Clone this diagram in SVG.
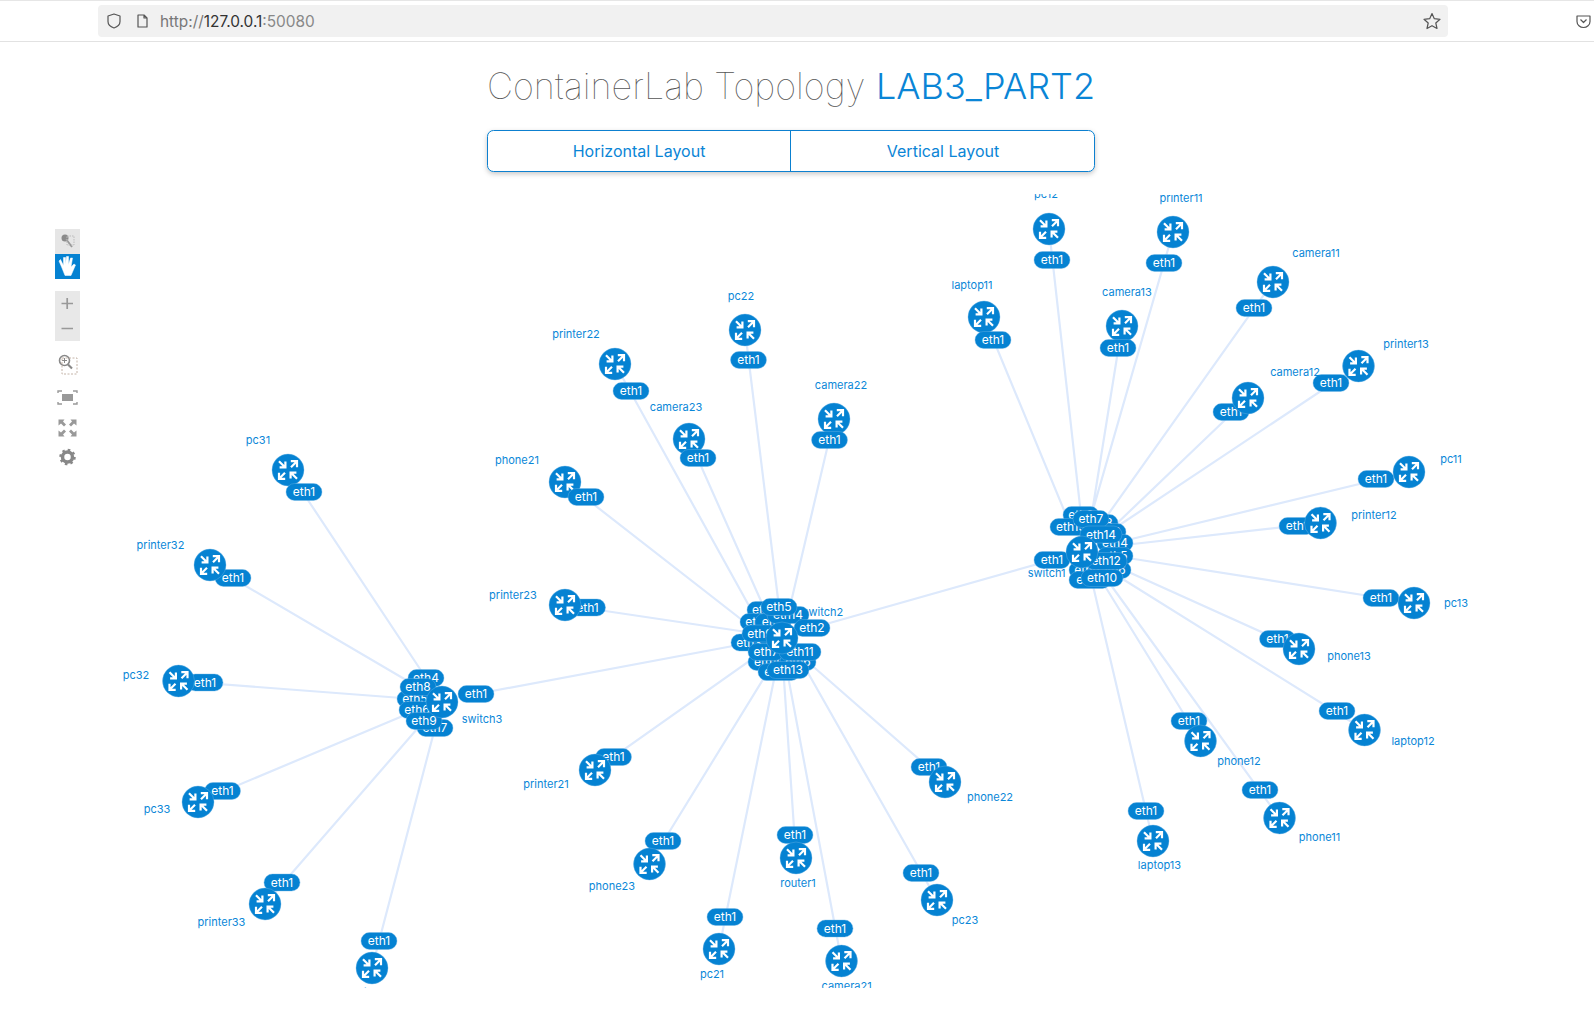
<svg xmlns="http://www.w3.org/2000/svg" xmlns:xlink="http://www.w3.org/1999/xlink" width="1594" height="1012" viewBox="0 0 1594 1012">
<style>
text{font-family:Inter,"Noto Sans","Liberation Sans",sans-serif}
.pill{fill:#0582d2;stroke:#6fb7e6;stroke-width:.4}
.pt{fill:#fff;font-size:12px;text-anchor:middle}
.lb{fill:#0a87d8;font-size:11px;text-anchor:middle}
.edge{stroke:#dde9fc;stroke-width:2.200;fill:none;stroke-linecap:round}
.ic{fill:none;stroke:#999;stroke-width:1.4}
.dk{fill:none;stroke:#555;stroke-width:1.200;stroke-linejoin:round}
</style>
<defs>
<clipPath id="view"><rect x="0" y="194" width="1594" height="794"/></clipPath>
<filter id="sh" x="-5%" y="-20%" width="110%" height="150%"><feDropShadow dx="0" dy="2" stdDeviation="2.5" flood-color="#000" flood-opacity=".22"/></filter>
<g id="r">
<circle r="16" fill="#0582d2" stroke="#6fb7e6" stroke-width=".4"/>
<path d="M-9-8.800-3-2.800M-2.600-8.400V-2.600H-8.400M9-8.800 3-2.800M2.800-8.800H9V-2.800M-9 8.800-3 2.800M-9 2.800V8.800H-2.800M9 8.800 3 2.800M2.600 8.400V2.600H8.400" fill="none" stroke="#fff" stroke-width="2.200"/>
</g>
</defs>
<rect width="1594" height="1012" fill="#fff"/>

<g id="browser-bar">
<rect x="0" y="0" width="1594" height="1" fill="#e6e6e6"/>
<rect x="0" y="41" width="1594" height="1" fill="#e2e2e2"/>
<rect x="98" y="5" width="1350" height="32" rx="4" fill="#f1f1f1"/>
<path class="dk" d="M114 14.500 120 16.500V22C120 25.500 117 27.500 114 28.500 111 27.500 108 25.500 108 22V16.500Z" transform="translate(0 -.5)"/>
<path class="dk" d="M138 15H144L147 18V27H138ZM144 15V18H147"/>
<text x="160" y="27" font-size="15.400px"><tspan fill="#777">http://</tspan><tspan fill="#333">127.0.0.1</tspan><tspan fill="#888">:50080</tspan></text>
<path class="dk" d="M1432 13.500 1434.300 18.700 1440 19.300 1435.800 23 1437 28.500 1432 25.700 1427 28.500 1428.200 23 1424 19.300 1429.700 18.700Z"/>
<path class="dk" d="M1577 16H1590V21.500C1590 25 1587 27.500 1583.500 27.500 1580 27.500 1577 25 1577 21.500Z"/>
<path class="dk" d="M1580.500 19.500 1583.500 22.500 1586.500 19.500"/>
</g>

<g id="title">
<text x="487" y="99" font-size="36px" font-weight="100" fill="#555">ContainerLab Topology</text>
<text x="876" y="99" font-size="36px" font-weight="300" fill="#0a85d6">LAB3_PART2</text>
</g>

<g id="layout-buttons">
<rect x="487.500" y="130.500" width="607" height="41" rx="6" fill="#fff" stroke="#0a80d0" stroke-width="1" filter="url(#sh)"/>
<line x1="790.500" y1="130.500" x2="790.500" y2="171.500" stroke="#0a80d0" stroke-width="1"/>
<text x="639" y="157" font-size="16px" fill="#0a85d6" text-anchor="middle">Horizontal Layout</text>
<text x="943" y="157" font-size="16px" fill="#0a85d6" text-anchor="middle">Vertical Layout</text>
</g>

<g id="toolbar">
<rect x="55" y="229" width="25" height="25" fill="#e6e6e6"/>
<circle cx="65" cy="238" r="3.500" fill="#8a8a8a"/>
<path d="M66 239 72 247" stroke="#999" stroke-width="1.800"/>
<rect x="67" y="236" width="7" height="9" fill="none" stroke="#bbb" stroke-width="1" stroke-dasharray="1.500 1"/>
<rect x="55" y="254" width="25" height="25" fill="#0582d2"/>
<path d="M60.500 259.500 63.500 265.500V257.500H65.500V264.500L66.500 256.500H68.500V264.500L70.500 258H72.500L71 267 74 264 75.500 265 71 275.500H65L62 268 59 261Z" fill="#fff" stroke="#fff" stroke-width=".5"/>
<rect x="55" y="291" width="25" height="50" fill="#e8e8e8"/>
<path d="M61.500 303.500H73M67.200 298V309M61.500 328.500H73" stroke="#999" stroke-width="1.700" fill="none"/>
<circle cx="64.500" cy="360.500" r="5" stroke="#888" stroke-width="1.600" fill="none"/>
<path d="M68 364.500 72 368.500" stroke="#888" stroke-width="2.200"/>
<path d="M62 360.500H67M64.500 358V363" stroke="#888" stroke-width="1"/>
<rect x="62" y="358" width="15" height="16" fill="none" stroke="#c4b4a8" stroke-width="1" stroke-dasharray="2 1.500"/>
<path class="ic" d="M58 393V391H62M73 391H77V393M77 402V404H73M62 404H58V402" stroke="#a8b0b8"/>
<rect x="62" y="394" width="11" height="7" fill="#999"/>
<path d="M58.500 419.500H64.500L63 421.500 66 424.500 64 426.500 61 423.500 58.500 425.500ZM76.500 419.500H70.500L72 421.500 69 424.500 71 426.500 74 423.500 76.500 425.500ZM58.500 436.500V430.500L61 432.500 64 429.500 66 431.500 63 434.500 64.500 436.500ZM76.500 436.500V430.500L74 432.500 71 429.500 69 431.500 72 434.500 70.500 436.500Z" fill="#999"/>
<circle cx="67.500" cy="457" r="5" fill="none" stroke="#888" stroke-width="3.500"/>
<circle cx="67.500" cy="457" r="7" fill="none" stroke="#888" stroke-width="2.500" stroke-dasharray="2.500 3"/>
</g>

<g clip-path="url(#view)">
<g id="connectors" class="edge">
<path d="M812 628 1052 560M476 694 749 643"/>
<path d="M745 330 779 607M615 364 758 622M689 439 765 610M565 482 760 634M565 605 760 634M834 419 788 615M595 770 765 650M649.500 864 775 660M719 949 779 655M796 858 782 650M841.500 961 785 660M937 900 795 650M945 782 800 655"/>
<path d="M288 470 426 678M210 565 418 687M178.500 681 415 699M198 802 417 710M265 904 424 721M372 968 435 728"/>
<path d="M1049 229 1081 515M984 317 1071 527M1122 326 1091 519M1173 232 1090 520M1273 282 1097 530M1248 398 1108 532M1358.500 366 1115 528M1409 472 1115 543M1320.500 523 1115 546M1414 603 1115 556M1299 649 1113 565M1364.500 730 1113 573M1279.500 818 1100 570M1200.500 741 1095 570M1153 841 1087 560"/>
</g>

<g id="switch1">
<text class="lb" x="1046.600" y="577">switch1</text>
<rect class="pill" x="1063" y="506.500" width="36" height="17" rx="8.500"/><text class="pt" x="1081" y="519">eth2</text>
<rect class="pill" x="1082" y="514.500" width="36" height="17" rx="8.500"/><text class="pt" x="1100" y="527">eth8</text>
<rect class="pill" x="1090" y="523.500" width="36" height="17" rx="8.500"/><text class="pt" x="1108" y="536">eth3</text>
<rect class="pill" x="1050" y="518.500" width="42" height="17" rx="8.500"/><text class="pt" x="1071" y="531">eth13</text>
<rect class="pill" x="1073" y="510.500" width="36" height="17" rx="8.500"/><text class="pt" x="1091" y="523">eth7</text>
<rect class="pill" x="1097" y="534.500" width="36" height="17" rx="8.500"/><text class="pt" x="1115" y="547">eth4</text>
<rect class="pill" x="1080" y="526" width="42" height="17" rx="8.500"/><text class="pt" x="1101" y="538.500">eth14</text>
<rect class="pill" x="1097" y="547.500" width="36" height="17" rx="8.500"/><text class="pt" x="1115" y="560">eth5</text>
<rect class="pill" x="1095" y="561.500" width="36" height="17" rx="8.500"/><text class="pt" x="1113" y="574">eth6</text>
<rect class="pill" x="1069" y="561.500" width="36" height="17" rx="8.500"/><text class="pt" x="1087" y="574">eth9</text>
<rect class="pill" x="1069" y="571.500" width="42" height="17" rx="8.500"/><text class="pt" x="1090" y="584">eth11</text>
<rect class="pill" x="1085" y="552.500" width="42" height="17" rx="8.500"/><text class="pt" x="1106" y="565">eth12</text>
<rect class="pill" x="1081" y="569.500" width="42" height="17" rx="8.500"/><text class="pt" x="1102" y="582">eth10</text>
<rect class="pill" x="1034" y="551.500" width="36" height="17" rx="8.500"/><text class="pt" x="1052" y="564">eth1</text>
<use href="#r" x="1082" y="552"/>
</g>

<g id="switch2">
<text class="lb" x="823" y="616">switch2</text>
<rect class="pill" x="747" y="601.500" width="36" height="17" rx="8.500"/><text class="pt" x="765" y="614">eth4</text>
<rect class="pill" x="740" y="613.500" width="36" height="17" rx="8.500"/><text class="pt" x="758" y="626">eth8</text>
<rect class="pill" x="755" y="613.500" width="36" height="17" rx="8.500"/><text class="pt" x="773" y="626">eth1</text>
<rect class="pill" x="767" y="606.500" width="42" height="17" rx="8.500"/><text class="pt" x="788" y="619">eth14</text>
<rect class="pill" x="761" y="598.500" width="36" height="17" rx="8.500"/><text class="pt" x="779" y="611">eth5</text>
<rect class="pill" x="794" y="619.500" width="36" height="17" rx="8.500"/><text class="pt" x="812" y="632">eth2</text>
<rect class="pill" x="731" y="634" width="36" height="17" rx="8.500"/><text class="pt" x="749" y="646.500">eth3</text>
<rect class="pill" x="742" y="625" width="36" height="17" rx="8.500"/><text class="pt" x="760" y="637.500">eth9</text>
<rect class="pill" x="748" y="653.500" width="42" height="17" rx="8.500"/><text class="pt" x="769" y="666">eth10</text>
<rect class="pill" x="758" y="663.500" width="42" height="17" rx="8.500"/><text class="pt" x="779" y="676">eth12</text>
<rect class="pill" x="748" y="643.500" width="36" height="17" rx="8.500"/><text class="pt" x="766" y="656">eth7</text>
<rect class="pill" x="780" y="653.500" width="36" height="17" rx="8.500"/><text class="pt" x="798" y="666">eth6</text>
<rect class="pill" x="779" y="643.500" width="42" height="17" rx="8.500"/><text class="pt" x="800" y="656">eth11</text>
<rect class="pill" x="767" y="661.500" width="42" height="17" rx="8.500"/><text class="pt" x="788" y="674">eth13</text>
<use href="#r" x="782" y="638"/>
</g>

<g id="switch3">
<rect class="pill" x="408" y="669.500" width="36" height="17" rx="8.500"/><text class="pt" x="426" y="682">eth4</text>
<rect class="pill" x="417" y="719.500" width="36" height="17" rx="8.500"/><text class="pt" x="435" y="732">eth7</text>
<rect class="pill" x="397" y="690.500" width="36" height="17" rx="8.500"/><text class="pt" x="415" y="703">eth5</text>
<rect class="pill" x="399" y="701.500" width="36" height="17" rx="8.500"/><text class="pt" x="417" y="714">eth6</text>
<rect class="pill" x="400" y="678.500" width="36" height="17" rx="8.500"/><text class="pt" x="418" y="691">eth8</text>
<rect class="pill" x="406" y="712.500" width="36" height="17" rx="8.500"/><text class="pt" x="424" y="725">eth9</text>
<use href="#r" x="442" y="702"/>
<rect class="pill" x="458" y="685.500" width="36" height="17" rx="8.500"/><text class="pt" x="476" y="698">eth1</text>
<text class="lb" x="482" y="723">switch3</text>
</g>

<g id="pc22"><use href="#r" x="745" y="330"/><rect class="pill" x="730.500" y="351.500" width="36" height="17" rx="8.500"/><text class="pt" x="748.500" y="364">eth1</text><text class="lb" x="741" y="300">pc22</text></g>
<g id="printer22"><use href="#r" x="615" y="364"/><rect class="pill" x="613" y="382.500" width="36" height="17" rx="8.500"/><text class="pt" x="631" y="395">eth1</text><text class="lb" x="576" y="338">printer22</text></g>
<g id="camera23"><use href="#r" x="689" y="439"/><rect class="pill" x="680" y="449.500" width="36" height="17" rx="8.500"/><text class="pt" x="698" y="462">eth1</text><text class="lb" x="676" y="411">camera23</text></g>
<g id="phone21"><use href="#r" x="565" y="482"/><rect class="pill" x="568" y="488.500" width="36" height="17" rx="8.500"/><text class="pt" x="586" y="501">eth1</text><text class="lb" x="517" y="464">phone21</text></g>
<g id="pc31"><use href="#r" x="288" y="470"/><rect class="pill" x="286" y="483.500" width="36" height="17" rx="8.500"/><text class="pt" x="304" y="496">eth1</text><text class="lb" x="258" y="444">pc31</text></g>
<g id="camera22"><use href="#r" x="834" y="419"/><rect class="pill" x="811.500" y="431.500" width="36" height="17" rx="8.500"/><text class="pt" x="829.500" y="444">eth1</text><text class="lb" x="841" y="389">camera22</text></g>
<g id="printer23"><rect class="pill" x="569.500" y="599" width="36" height="17" rx="8.500"/><text class="pt" x="587.500" y="611.500">eth1</text><use href="#r" x="565" y="605"/><text class="lb" x="513" y="599">printer23</text></g>
<g id="printer32"><rect class="pill" x="215" y="569.500" width="36" height="17" rx="8.500"/><text class="pt" x="233" y="582">eth1</text><use href="#r" x="210" y="565"/><text class="lb" x="160.500" y="549">printer32</text></g>
<g id="pc32"><rect class="pill" x="187" y="674" width="36" height="17" rx="8.500"/><text class="pt" x="205" y="686.500">eth1</text><use href="#r" x="178.500" y="681"/><text class="lb" x="136" y="678.500">pc32</text></g>
<g id="pc33"><rect class="pill" x="204.500" y="782.500" width="36" height="17" rx="8.500"/><text class="pt" x="222.500" y="795">eth1</text><use href="#r" x="198" y="802"/><text class="lb" x="157" y="812.500">pc33</text></g>
<g id="printer33"><rect class="pill" x="264" y="874" width="36" height="17" rx="8.500"/><text class="pt" x="282" y="886.500">eth1</text><use href="#r" x="265" y="904"/><text class="lb" x="221.500" y="926">printer33</text></g>
<g id="laptop31"><rect class="pill" x="361" y="932.500" width="36" height="17" rx="8.500"/><text class="pt" x="379" y="945">eth1</text><use href="#r" x="372" y="968"/><text class="lb" x="370" y="995.500">laptop31</text></g>
<g id="printer21"><rect class="pill" x="595.500" y="748.500" width="36" height="17" rx="8.500"/><text class="pt" x="613.500" y="761">eth1</text><use href="#r" x="595" y="770"/><text class="lb" x="546" y="787.500">printer21</text></g>
<g id="phone23"><rect class="pill" x="645" y="832.500" width="36" height="17" rx="8.500"/><text class="pt" x="663" y="845">eth1</text><use href="#r" x="649.500" y="864"/><text class="lb" x="612" y="890">phone23</text></g>
<g id="pc21"><rect class="pill" x="707" y="908.500" width="36" height="17" rx="8.500"/><text class="pt" x="725" y="921">eth1</text><use href="#r" x="719" y="949"/><text class="lb" x="712" y="977.500">pc21</text></g>
<g id="router1"><rect class="pill" x="777" y="826.500" width="36" height="17" rx="8.500"/><text class="pt" x="795" y="839">eth1</text><use href="#r" x="796" y="858"/><text class="lb" x="798" y="887">router1</text></g>
<g id="phone22"><rect class="pill" x="911" y="758.500" width="36" height="17" rx="8.500"/><text class="pt" x="929" y="771">eth1</text><use href="#r" x="945" y="782"/><text class="lb" x="990" y="801">phone22</text></g>
<g id="pc23"><rect class="pill" x="903" y="864.500" width="36" height="17" rx="8.500"/><text class="pt" x="921" y="877">eth1</text><use href="#r" x="937" y="900"/><text class="lb" x="965" y="924">pc23</text></g>
<g id="camera21"><rect class="pill" x="817" y="920" width="36" height="17" rx="8.500"/><text class="pt" x="835" y="932.500">eth1</text><use href="#r" x="841.500" y="961"/><text class="lb" x="846.600" y="990">camera21</text></g>

<g id="pc12"><use href="#r" x="1049" y="229"/><rect class="pill" x="1034" y="251.500" width="36" height="17" rx="8.500"/><text class="pt" x="1052" y="264">eth1</text><text class="lb" x="1046" y="198">pc12</text></g>
<g id="printer11"><use href="#r" x="1173" y="232"/><rect class="pill" x="1146" y="254.500" width="36" height="17" rx="8.500"/><text class="pt" x="1164" y="267">eth1</text><text class="lb" x="1181" y="202">printer11</text></g>
<g id="camera11"><use href="#r" x="1273" y="282"/><rect class="pill" x="1236" y="299.500" width="36" height="17" rx="8.500"/><text class="pt" x="1254" y="312">eth1</text><text class="lb" x="1316" y="257">camera11</text></g>
<g id="laptop11"><use href="#r" x="984" y="317"/><rect class="pill" x="975" y="331.500" width="36" height="17" rx="8.500"/><text class="pt" x="993" y="344">eth1</text><text class="lb" x="972" y="289">laptop11</text></g>
<g id="camera13"><use href="#r" x="1122" y="326"/><rect class="pill" x="1100" y="339.500" width="36" height="17" rx="8.500"/><text class="pt" x="1118" y="352">eth1</text><text class="lb" x="1127" y="296">camera13</text></g>
<g id="printer13"><rect class="pill" x="1313" y="374.500" width="36" height="17" rx="8.500"/><text class="pt" x="1331" y="387">eth1</text><use href="#r" x="1358.500" y="366"/><text class="lb" x="1406" y="348">printer13</text></g>
<g id="camera12"><rect class="pill" x="1213" y="403.500" width="36" height="17" rx="8.500"/><text class="pt" x="1231" y="416">eth1</text><use href="#r" x="1248" y="398"/><text class="lb" x="1295" y="376">camera12</text></g>
<g id="pc11"><rect class="pill" x="1358" y="470.500" width="36" height="17" rx="8.500"/><text class="pt" x="1376" y="483">eth1</text><use href="#r" x="1409" y="472"/><text class="lb" x="1451" y="463">pc11</text></g>
<g id="printer12"><rect class="pill" x="1279" y="517.500" width="36" height="17" rx="8.500"/><text class="pt" x="1297" y="530">eth1</text><use href="#r" x="1320.500" y="523"/><text class="lb" x="1374" y="519">printer12</text></g>
<g id="pc13"><rect class="pill" x="1363" y="589.500" width="36" height="17" rx="8.500"/><text class="pt" x="1381" y="602">eth1</text><use href="#r" x="1414" y="603"/><text class="lb" x="1456" y="607">pc13</text></g>
<g id="phone13"><rect class="pill" x="1259.500" y="630.500" width="36" height="17" rx="8.500"/><text class="pt" x="1277.500" y="643">eth1</text><use href="#r" x="1299" y="649"/><text class="lb" x="1349" y="660">phone13</text></g>
<g id="laptop12"><rect class="pill" x="1319" y="702.500" width="36" height="17" rx="8.500"/><text class="pt" x="1337" y="715">eth1</text><use href="#r" x="1364.500" y="730"/><text class="lb" x="1413" y="745">laptop12</text></g>
<g id="phone12"><rect class="pill" x="1171" y="712.500" width="36" height="17" rx="8.500"/><text class="pt" x="1189" y="725">eth1</text><use href="#r" x="1200.500" y="741"/><text class="lb" x="1239" y="765">phone12</text></g>
<g id="phone11"><rect class="pill" x="1242" y="781.500" width="36" height="17" rx="8.500"/><text class="pt" x="1260" y="794">eth1</text><use href="#r" x="1279.500" y="818"/><text class="lb" x="1319.500" y="841">phone11</text></g>
<g id="laptop13"><rect class="pill" x="1128" y="802.500" width="36" height="17" rx="8.500"/><text class="pt" x="1146" y="815">eth1</text><use href="#r" x="1153" y="841"/><text class="lb" x="1159.500" y="869">laptop13</text></g>
</g>
</svg>
